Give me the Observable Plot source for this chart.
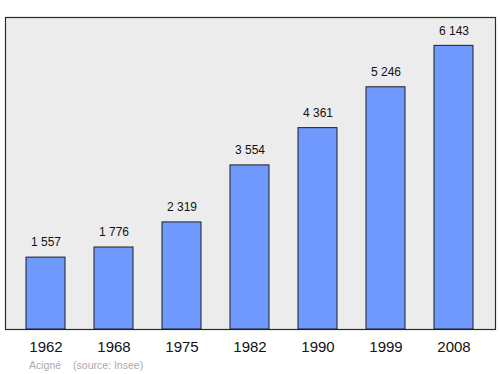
<!DOCTYPE html>
<html>
<head>
<meta charset="utf-8">
<script src="https://cdn.jsdelivr.net/npm/d3@7"></script>
<script src="https://cdn.jsdelivr.net/npm/@observablehq/plot@0.6"></script>
<style>
  body { margin: 0; background: #fff; font-family: "Liberation Sans", Arial, sans-serif; }
  #caption { font-size: 10.5px; line-height: 14px; color: #aaa; margin-top: 2px; padding-left: 29px; white-space: pre; }
</style>
</head>
<body>
<div id="chart"></div>
<div id="caption"><span>Acigné</span><span style="margin-left:12px">(source: Insee)</span></div>
<script>
const years = ["1962", "1968", "1975", "1982", "1990", "1999", "2008"];
const population = [1557, 1776, 2319, 3554, 4361, 5246, 6143];

const data = years.map((y, i) => ({ year: y, pop: population[i] }));
const fmt = v => d3.format(",")(v).replace(/,/g, " ");
const yMax = d3.max(population) * 1.1;

const chart = Plot.plot({
  width: 500,
  height: 356,
  marginTop: 17,
  marginBottom: 27,
  marginLeft: 5,
  marginRight: 5,
  style: { fontFamily: "'Liberation Sans', Arial, sans-serif", background: "transparent" },
  x: { domain: years, paddingInner: 0.42, paddingOuter: 0.293, label: null },
  y: { domain: [0, yMax], axis: null },
  marks: [
    Plot.frame({ fill: "#ececec", stroke: "#2b2b2b", strokeWidth: 1.2 }),
    Plot.barY(data, { x: "year", y: "pop", fill: "#7099fe", stroke: "#1e1e1e", strokeWidth: 1 }),
    Plot.text(data, { x: "year", y: "pop", text: d => fmt(d.pop), lineAnchor: "middle", dy: -15, fontSize: 12, fill: "#111" }),
    Plot.axisX({ tickSize: 0, tickPadding: 12, fontSize: 15, fill: "#111", label: null })
  ]
});
document.getElementById("chart").appendChild(chart);
</script>
</body>
</html>
